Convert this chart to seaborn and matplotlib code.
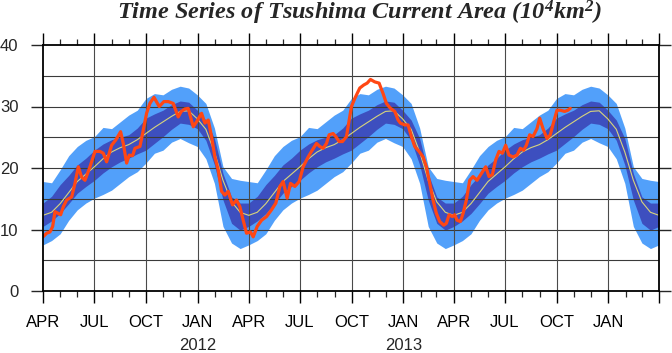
import numpy as np
import pandas as pd
import matplotlib
matplotlib.use("Agg")
import matplotlib.pyplot as plt
import matplotlib.dates as mdates
import matplotlib.transforms as mtransforms
import seaborn as sns

# ---------------- data ----------------
# climatology, one seasonal cycle from 1 April, position in months
clim_month = [0, 0.5, 1, 1.5, 2, 2.5, 3, 3.5, 4, 4.5, 5, 5.5, 6, 6.5, 7, 7.5,
              8, 8.5, 9, 9.5, 10, 10.5, 11, 11.5, 12]
clim_mean = [12.3, 12.8, 14.2, 16.0, 17.8, 19.0, 20.2, 21.5, 22.6, 23.3, 23.8, 24.6,
             25.6, 26.6, 27.5, 28.4, 29.2, 29.3, 28.0, 26.3, 22.6, 18.0, 14.5, 12.8, 12.3]
dark_lo = [10.5, 11.4, 12.6, 14.2, 15.9, 17.0, 18.0, 19.2, 20.2, 21.0, 21.6, 22.3,
           22.9, 24.0, 25.1, 26.3, 27.3, 27.1, 26.4, 24.5, 20.5, 14.8, 11.0, 9.9, 10.5]
dark_hi = [14.3, 15.4, 17.3, 18.8, 20.5, 21.6, 22.9, 23.9, 24.6, 25.0, 25.4, 26.5,
           28.1, 28.8, 29.4, 30.3, 30.9, 30.7, 29.4, 27.8, 24.8, 19.1, 15.3, 14.3, 14.3]
light_lo = [7.5, 8.2, 9.3, 11.5, 13.2, 14.3, 15.1, 15.7, 16.4, 17.5, 18.6, 19.4,
            20.8, 22.4, 22.9, 24.2, 24.8, 24.1, 23.5, 21.5, 17.5, 10.5, 7.8, 6.9, 7.5]
light_hi = [17.8, 17.6, 19.7, 22.0, 23.5, 24.5, 25.1, 26.6, 26.4, 27.5, 28.6, 29.4,
            31.3, 32.1, 31.9, 32.8, 33.3, 33.0, 31.9, 30.5, 26.5, 20.2, 18.3, 18.0, 17.8]
cycle_starts = ["2011-04-01", "2012-04-01", "2013-04-01"]

# observed series: days since 2011-04-01 and area (10^4 km^2)
obs_day = [0, 6.5, 12.4, 17.2, 21.3, 27.3, 31.4, 36.1, 42.1, 51.0, 56.9, 62.8, 68.8,
           74.7, 83.6, 92.5, 101.3, 107.3, 113.2, 122.1, 129.8, 138.1, 142.8, 148.8,
           153.5, 159.4, 163.6, 172.5, 177.2, 184.3, 190.2, 197.4, 206.8, 215.1, 222.8,
           231.7, 240.6, 246.0, 252.5, 258.4, 267.3, 273.2, 282.1, 288.0, 294.0, 299.9,
           305.8, 311.7, 317.7, 323.6, 329.5, 337.2, 344.3, 350.3, 356.2, 362.1, 369.2,
           374.0, 381.1, 388.8, 397.7, 406.6, 414.3, 421.4, 427.3, 434.4, 440.4, 448.1,
           455.8, 462.9, 471.8, 477.7, 486.6, 492.5, 498.4, 504.4, 509.1, 516.2, 521.0,
           526.9, 532.8, 539.9, 544.7, 548.8, 554.7, 563.6, 570.7, 576.7, 582.6, 590.3,
           598.0, 605.1, 611.0, 618.2, 625.9, 631.8, 635.9, 643.6, 649.6, 655.5, 661.4,
           669.1, 676.2, 682.2, 688.1, 694.0, 700.0, 705.9, 713.0, 717.7, 722.5, 728.4,
           732.5, 736.7, 742.6, 747.4, 753.3, 759.2, 765.1, 772.2, 780.0, 787.7, 793.6,
           799.5, 805.4, 811.4, 817.3, 823.2, 829.1, 836.3, 843.4, 849.3, 855.2, 860.0,
           865.9, 871.8, 878.9, 883.7, 889.6, 896.7, 902.6, 908.6, 914.5, 920.4, 928.1,
           934.0, 938.2]
obs_val = [8.8, 9.4, 9.6, 10.5, 12.9, 12.6, 12.4, 13.7, 14.8, 15.3, 17.5, 20.2, 18.5,
           18.0, 20.2, 22.7, 22.7, 22.4, 21.0, 23.7, 24.6, 25.9, 24.0, 20.8,
           22.1, 22.0, 23.2, 23.5, 25.6, 28.9, 30.5, 31.5, 30.0, 30.8, 30.8,
           30.5, 28.3, 29.2, 29.6, 29.7, 26.7, 27.5, 28.9, 27.3, 27.8, 25.1,
           21.8, 19.7, 16.2, 15.6, 16.2, 14.0, 14.8, 13.7, 11.5, 9.4, 9.6,
           8.8, 10.5, 11.5, 12.1, 13.2, 14.3, 17.0, 17.8, 15.1, 17.5, 17.0,
           17.8, 20.2, 21.8, 22.7, 24.0, 23.5, 23.2, 24.0, 25.4, 25.6, 25.1,
           24.3, 24.3, 25.1, 27.8, 30.0, 31.3, 33.0, 33.5, 33.8, 34.4, 34.0,
           33.8, 32.1, 30.5, 29.7, 29.2, 27.8, 27.3, 27.0, 27.0, 25.1, 23.5,
           22.7, 21.8, 20.2, 17.5, 14.8, 12.6, 11.3, 10.7, 11.0, 12.4, 12.1,
           12.4, 11.5, 11.3, 12.6, 14.8, 18.0, 18.6, 18.0, 19.1, 20.2, 18.6,
           18.9, 21.3, 22.7, 22.4, 23.7, 22.1, 21.8, 22.1, 23.2, 22.9, 23.7,
           25.4, 25.1, 26.4, 28.1, 26.4, 24.8, 25.4, 27.5, 29.4, 29.4, 29.2,
           29.4, 29.7]

year_labels = {2012: "2012", 2013: "2013"}
y_ticks = [0, 10, 20, 30, 40]

# ---------------- build series ----------------
t0 = pd.Timestamp("2011-04-01")
cx, cm, dlo, dhi, llo, lhi = [], [], [], [], [], []
for s in cycle_starts:
    st = pd.Timestamp(s)
    ylen = (st + pd.DateOffset(years=1) - st).days
    for m, a, b, c, d, e in zip(clim_month, clim_mean, dark_lo, dark_hi, light_lo, light_hi):
        cx.append(mdates.date2num(st + pd.Timedelta(days=m * ylen / 12.0)))
        cm.append(a); dlo.append(b); dhi.append(c); llo.append(d); lhi.append(e)
clim = pd.DataFrame({"x": cx, "mean": cm, "dlo": dlo, "dhi": dhi, "llo": llo, "lhi": lhi})
obs = pd.DataFrame({"x": [mdates.date2num(t0 + pd.Timedelta(days=d)) for d in obs_day],
                    "v": obs_val})

# ---------------- style ----------------
sns.set_style("white")
plt.rcParams["font.family"] = ["Liberation Sans", "DejaVu Sans"]
plt.rcParams["mathtext.fontset"] = "custom"
plt.rcParams["mathtext.rm"] = "Liberation Serif:bold:italic"
plt.rcParams["mathtext.it"] = "Liberation Serif:bold:italic"
plt.rcParams["mathtext.bf"] = "Liberation Serif:bold:italic"

fig = plt.figure(figsize=(6.72, 3.53), dpi=100)
ax = fig.add_axes([43 / 672, 62 / 353, 616 / 672, 246 / 353])

light_c = "#52a0fa"
dark_c = "#3d4fbf"
ax.fill_between(clim["x"], clim["llo"], clim["lhi"], color=light_c, lw=0, zorder=1)
ax.fill_between(clim["x"], clim["dlo"], clim["dhi"], color=dark_c, lw=0, zorder=1.5)

xmin = mdates.date2num(pd.Timestamp("2011-04-01"))
xmax = mdates.date2num(pd.Timestamp("2014-04-01"))
ax.set_xlim(xmin, xmax)
ax.set_ylim(0, 40)

# grid
for yv in range(5, 40, 5):
    ax.axhline(yv, color="#3a3a3a", lw=0.8, zorder=2)
for d in pd.date_range("2011-07-01", "2014-01-01", freq="QS-JAN"):
    ax.axvline(mdates.date2num(d), color="#4a4a4a", lw=0.8, zorder=2)

sns.lineplot(data=clim, x="x", y="mean", ax=ax, color="#d8d47c", lw=0.8,
             estimator=None, sort=False, zorder=3)
sns.lineplot(data=obs, x="x", y="v", ax=ax, color="#ff4714", lw=2.3,
             estimator=None, sort=False, zorder=4)

ax.set_xlabel("")
ax.set_ylabel("")

xt = [mdates.date2num(d) for d in pd.date_range("2011-04-01", "2014-04-01", freq="QS-JAN")]
ax.set_xticks(xt)
ax.set_xticklabels([mdates.num2date(v).strftime("%b").upper() if v < xmax else ""
                    for v in xt])
ax.xaxis.set_minor_locator(mdates.MonthLocator())
ax.set_yticks(y_ticks)
ax.set_yticklabels([str(v) for v in y_ticks])

ax.tick_params(axis="x", which="major", direction="out", length=8.6, width=1.0,
               top=True, bottom=True, labelsize=12, pad=9, colors="black")
ax.tick_params(axis="x", which="minor", direction="out", length=4.5, width=0.9,
               top=True, bottom=True)
ax.tick_params(axis="y", which="major", direction="out", length=8.6, width=1.0,
               left=True, right=True, labelsize=12, pad=9)
for sp in ax.spines.values():
    sp.set_linewidth(1.3)
    sp.set_color("black")
    sp.set_zorder(5)

trans = mtransforms.blended_transform_factory(ax.transData, ax.transAxes)
for yr, lab in year_labels.items():
    ax.text(mdates.date2num(pd.Timestamp(f"{yr}-01-01")), -(345 - 291) / 246, lab,
            transform=trans, ha="center", va="center", fontsize=12)

fig.text(360 / 672, 1 - 19.5 / 353,
         r"Time Series of Tsushima Current Area (10$^4$km$^2$)",
         ha="center", va="baseline", fontsize=17.5,
         family="Liberation Serif", style="italic", weight="bold")

fig.savefig("out.png", dpi=100)
